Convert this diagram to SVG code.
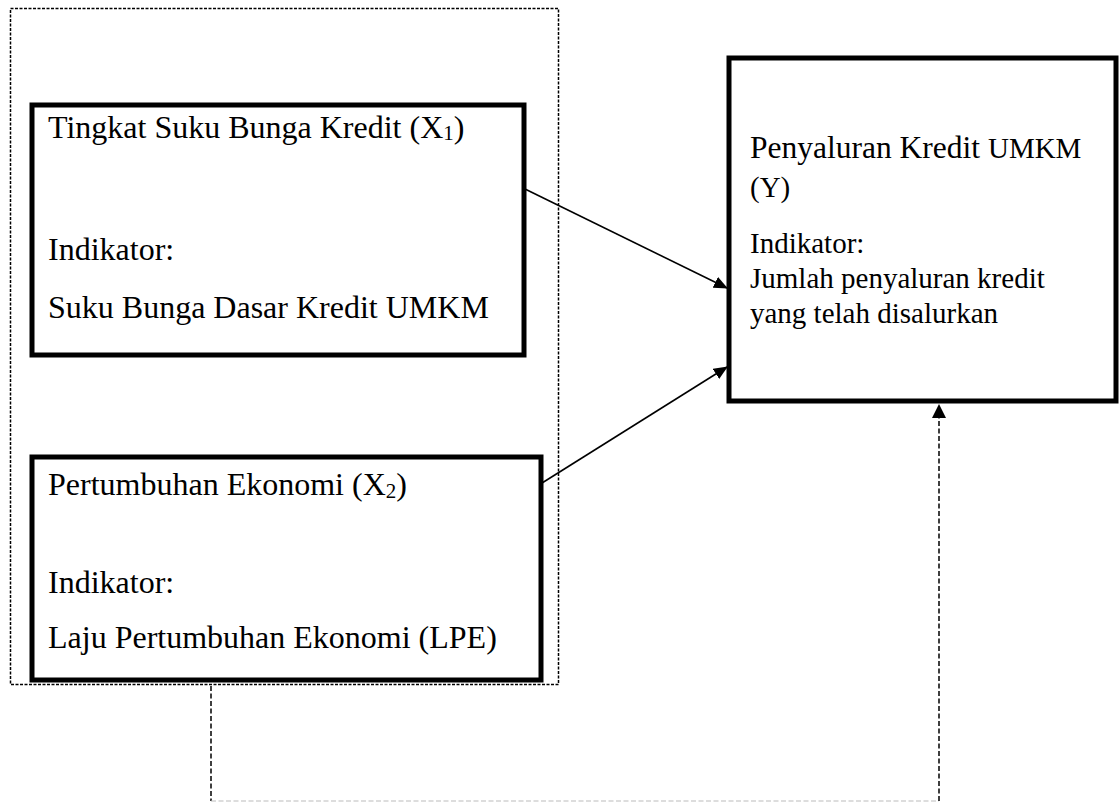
<svg xmlns="http://www.w3.org/2000/svg" width="1120" height="803" viewBox="0 0 1120 803">
<style>
  .box { fill: #fff; stroke: #000; stroke-width: 5; }
  .t { font-family: "Liberation Serif", "Times New Roman", serif; font-size: 32px; fill: #000; }
  .ty { font-family: "Liberation Serif", "Times New Roman", serif; font-size: 29px; fill: #000; }
  .big { font-size: 31.5px; }
  .sub { font-size: 21px; }
  .arrow { stroke: #000; stroke-width: 1.6; fill: none; marker-end: url(#ah); }
  .dash { stroke: #000; stroke-width: 1.5; fill: none; stroke-dasharray: 5 2.5; }
</style>
<defs>
  <marker id="ah" markerWidth="14" markerHeight="12" refX="13" refY="6" orient="auto" markerUnits="userSpaceOnUse">
    <path d="M0,0 L14,6 L0,12 Z" fill="#000"/>
  </marker>
</defs>
<rect width="1120" height="803" fill="#fff"/>
<g id="group-x">
  <rect x="10.5" y="8.5" width="548" height="676" fill="none" stroke="#000" stroke-width="1.5" stroke-dasharray="3 1.5"/>
</g>
<g id="node-x1">
  <rect class="box" x="32" y="105" width="492" height="250"/>
  <text class="t" x="48" y="138">Tingkat Suku Bunga Kredit (X<tspan class="sub" dy="2">1</tspan><tspan dy="-2">)</tspan></text>
  <text class="t" x="48" y="260">Indikator:</text>
  <text class="t" x="48" y="318">Suku Bunga Dasar Kredit UMKM</text>
</g>
<g id="node-x2">
  <rect class="box" x="32" y="457" width="509" height="223"/>
  <text class="t" x="48" y="495">Pertumbuhan Ekonomi (X<tspan class="sub" dy="3">2</tspan><tspan dy="-3">)</tspan></text>
  <text class="t" x="48" y="593">Indikator:</text>
  <text class="t" x="48" y="648">Laju Pertumbuhan Ekonomi (LPE)</text>
</g>
<g id="node-y">
  <rect class="box" x="729" y="58" width="387" height="343"/>
  <text class="ty" x="750" y="158"><tspan class="big">Penyaluran Kredit </tspan>UMKM</text>
  <text class="ty" x="750" y="197">(Y)</text>
  <text class="ty" x="750" y="253">Indikator:</text>
  <text class="ty" x="750" y="288">Jumlah penyaluran kredit</text>
  <text class="ty" x="750" y="323">yang telah disalurkan</text>
</g>
<g id="connectors">
  <line class="arrow" x1="525" y1="189" x2="727" y2="288"/>
  <line class="arrow" x1="542" y1="483" x2="727" y2="367"/>
  <path class="dash" d="M211,686 L211,801"/>
  <path d="M211,801 L939,801" stroke="#bbb" stroke-width="1.2" fill="none" stroke-dasharray="5 2.5"/>
  <path class="dash" d="M939,801 L939,418"/>
  <path d="M932,418 L939,404 L946,418 Z" fill="#000"/>
</g>
</svg>
